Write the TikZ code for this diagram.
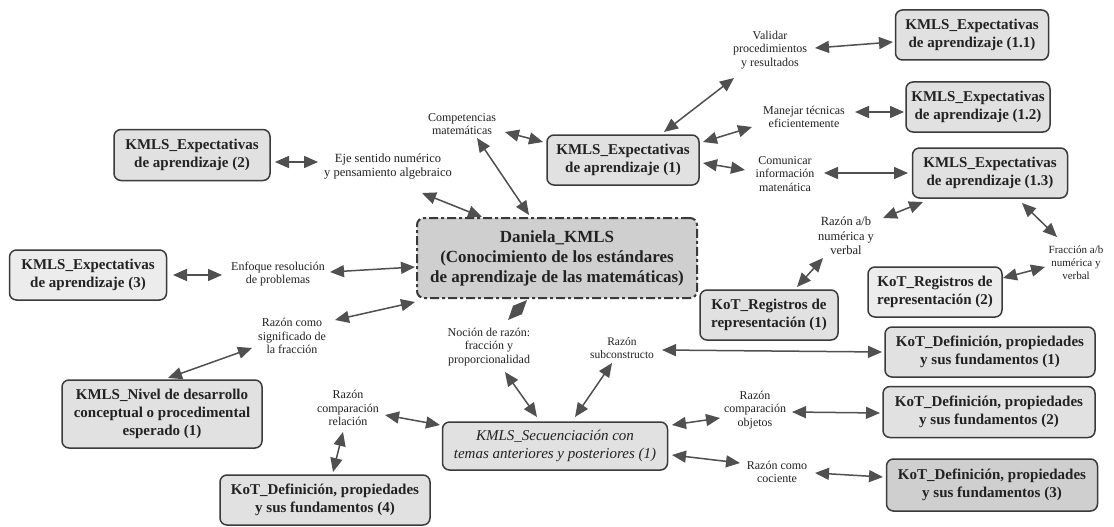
\documentclass[tikz,border=0pt]{standalone}
\usepackage{fontspec}
\setmainfont{Liberation Serif}
\newfontfamily\tnr{Liberation Serif}
\usetikzlibrary{arrows.meta}
\definecolor{boxfill}{HTML}{E1E1E1}
\definecolor{boxfilldark}{HTML}{CFCFCF}
\definecolor{boxfilllight}{HTML}{ECECEC}
\definecolor{bordergray}{HTML}{3A3A3A}
\definecolor{textgray}{HTML}{222222}
\definecolor{arrowgray}{HTML}{505050}
\begin{document}
\begin{tikzpicture}[x=1pt,y=-1pt,
  box/.style={draw=bordergray, line width=1.5pt, rounded corners=7pt, fill=boxfill,
    align=center, font=\tnr\fontsize{15}{18}\selectfont\bfseries, text=textgray, inner sep=2pt},
  lbl/.style={align=center, font=\tnr\fontsize{12}{13.5}\selectfont, text=textgray, inner sep=1pt},
  tip/.tip={Triangle[length=14pt 0 0,width=12pt 0 0]},
  arr/.style={tip-tip, line width=1.5pt, draw=arrowgray, fill=arrowgray}
]
\useasboundingbox (0,0) rectangle (1114,527);
\fill[white] (0,0) rectangle (1114,527);

% boxes
\node[box, minimum width=156pt, minimum height=51pt] (e2) at (192,155) {KMLS\_Expectativas\\de aprendizaje (2)};
\node[box, minimum width=152pt, minimum height=50pt] (e1) at (623,160) {KMLS\_Expectativas\\de aprendizaje (1)};
\node[box, minimum width=153pt, minimum height=50pt] (e11) at (972,35) {KMLS\_Expectativas\\de aprendizaje (1.1)};
\node[box, minimum width=144pt, minimum height=50pt] (e12) at (978,107) {KMLS\_Expectativas\\de aprendizaje (1.2)};
\node[box, minimum width=155pt, minimum height=50pt] (e13) at (990,173) {KMLS\_Expectativas\\de aprendizaje (1.3)};
\node[box, fill=boxfilllight, minimum width=157pt, minimum height=50pt] (e3) at (88,275) {KMLS\_Expectativas\\de aprendizaje (3)};
\node[box, fill=boxfilldark, line width=2pt, dash pattern=on 9pt off 3pt on 3pt off 3pt,
      minimum width=280pt, minimum height=80pt, font=\tnr\fontsize{17}{20}\selectfont\bfseries] (c) at (557,258)
      {Daniela\_KMLS\\(Conocimiento de los estándares\\de aprendizaje de las matemáticas)};
\node[box, minimum width=200pt, minimum height=68pt] (nivel) at (162,414) {KMLS\_Nivel de desarrollo\\conceptual o procedimental\\esperado (1)};
\node[box, minimum width=210pt, minimum height=50pt] (kd4) at (325,500) {KoT\_Definición, propiedades\\y sus fundamentos (4)};
\node[box, minimum width=225pt, minimum height=48pt, font=\tnr\fontsize{15}{18}\selectfont\itshape] (seq) at (555,446) {KMLS\_Secuenciación con\\temas anteriores y posteriores (1)};
\node[box, minimum width=138pt, minimum height=50pt] (kr1) at (769,315) {KoT\_Registros de\\representación (1)};
\node[box, fill=boxfilllight, minimum width=134pt, minimum height=50pt] (kr2) at (935,292) {KoT\_Registros de\\representación (2)};
\node[box, minimum width=210pt, minimum height=50pt] (kd1) at (990,352) {KoT\_Definición, propiedades\\y sus fundamentos (1)};
\node[box, minimum width=212pt, minimum height=51pt] (kd2) at (989,412) {KoT\_Definición, propiedades\\y sus fundamentos (2)};
\node[box, fill=boxfilldark, minimum width=211pt, minimum height=52pt] (kd3) at (992,485) {KoT\_Definición, propiedades\\y sus fundamentos (3)};

% labels
\node[lbl, font=\tnr\fontsize{12.5}{14}\selectfont] (eje) at (388,167) {Eje sentido numérico\\y pensamiento algebraico};
\node[lbl] (comp) at (462,124) {Competencias\\matemáticas};
\node[lbl] (val) at (770,50) {Validar\\procedimientos\\y resultados};
\node[lbl] (man) at (804,117) {Manejar técnicas\\eficientemente};
\node[lbl] (com) at (785,174) {Comunicar\\información\\matenática};
\node[lbl] (enf) at (278,274) {Enfoque resolución\\de problemas};
\node[lbl] (rsig) at (292,336) {Razón como\\significado de\\la fracción};
\node[lbl] (noc) at (489,347) {Noción de razón:\\fracción y\\proporcionalidad};
\node[lbl, font=\tnr\fontsize{11.5}{13}\selectfont] (rsub) at (622,348) {Razón\\subconstructo};
\node[lbl, font=\tnr\fontsize{12.5}{14.5}\selectfont] (rab) at (846,236) {Razón a/b\\numérica y\\verbal};
\node[lbl, font=\tnr\fontsize{11}{13}\selectfont] (frac) at (1076,263) {Fracción a/b\\numérica y\\verbal};
\node[lbl] (rcr) at (348,408) {Razón\\comparación\\relación};
\node[lbl] (rco) at (755,410) {Razón\\comparación\\objetos};
\node[lbl] (rcoc) at (777,472) {Razón como\\cociente};

% connectors
\draw[arr] ([shift={(83,7)}]e2.center) -- ([shift={(-70,-5)}]eje.center);
\draw[arr] ([shift={(43,8)}]comp.center) -- ([shift={(-80,-18)}]e1.center);
\draw[arr] ([shift={(34,26)}]eje.center) -- ([shift={(-75,-41)}]c.center);
\draw[arr] ([shift={(15,14)}]comp.center) -- ([shift={(-28,-43)}]c.center);
\draw[arr] ([shift={(41,-28)}]e1.center) -- ([shift={(-36,28)}]val.center);
\draw[arr] ([shift={(80,-18)}]e1.center) -- ([shift={(-52,10)}]man.center);
\draw[arr] ([shift={(80,3)}]e1.center) -- ([shift={(-40,-4)}]com.center);
\draw[arr] ([shift={(45,-2)}]val.center) -- ([shift={(-79,7)}]e11.center);
\draw[arr] ([shift={(51,-5)}]man.center) -- ([shift={(-74,5)}]e12.center);
\draw[arr] ([shift={(39,-1)}]com.center) -- ([shift={(-82,0)}]e13.center);
\draw[arr] ([shift={(85,0)}]e3.center) -- ([shift={(-56,1)}]enf.center);
\draw[arr] ([shift={(52,-2)}]enf.center) -- ([shift={(-142,9)}]c.center);
\draw[arr] ([shift={(43,-16)}]rsig.center) -- ([shift={(-142,44)}]c.center);
\draw[arr] ([shift={(6,-36)}]nivel.center) -- ([shift={(-40,12)}]rsig.center);
\draw[arr] ([shift={(19,-27)}]noc.center) -- ([shift={(-30,42)}]c.center);
\draw[arr] ([shift={(16,25)}]noc.center) -- ([shift={(-18,-29)}]seq.center);
\draw[arr] ([shift={(-10,15)}]rsub.center) -- ([shift={(20,-29)}]seq.center);
\draw[arr] ([shift={(40,2)}]rsub.center) -- ([shift={(-108,0)}]kd1.center);
\draw[arr] ([shift={(37,7)}]rcr.center) -- ([shift={(-115,-21)}]seq.center);
\draw[arr] ([shift={(-5,24)}]rcr.center) -- ([shift={(8,-28)}]kd4.center);
\draw[arr] ([shift={(117,-21)}]seq.center) -- ([shift={(-35,8)}]rco.center);
\draw[arr] ([shift={(37,2)}]rco.center) -- ([shift={(-109,1)}]kd2.center);
\draw[arr] ([shift={(117,9)}]seq.center) -- ([shift={(-37,-9)}]rcoc.center);
\draw[arr] ([shift={(38,1)}]rcoc.center) -- ([shift={(-109,-8)}]kd3.center);
\draw[arr] ([shift={(-67,29)}]e13.center) -- ([shift={(37,-18)}]rab.center);
\draw[arr] ([shift={(32,30)}]e13.center) -- ([shift={(-19,-26)}]frac.center);
\draw[arr] ([shift={(-23,22)}]rab.center) -- ([shift={(28,-28)}]kr1.center);
\draw[arr] ([shift={(-31,4)}]frac.center) -- ([shift={(68,-14)}]kr2.center);
\end{tikzpicture}
\end{document}
